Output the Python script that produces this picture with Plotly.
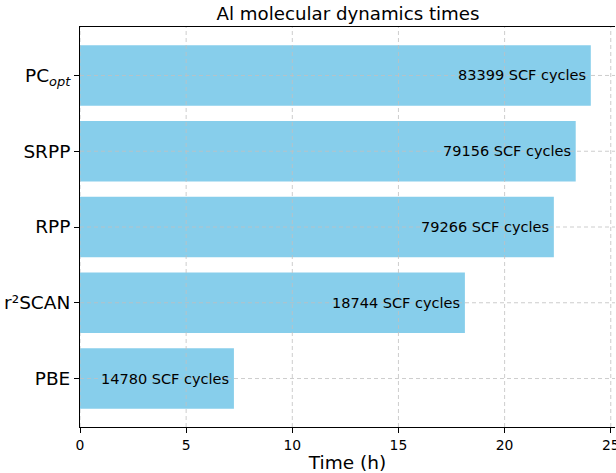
import plotly.graph_objects as go

categories = ["PBE", "r²SCAN", "RPP", "SRPP", "PC<sub><i>opt</i></sub>"]
times_h = [7.25, 18.13, 22.32, 23.35, 24.06]
scf_cycles = [14780, 18744, 79266, 79156, 83399]
x_ticks = [0, 5, 10, 15, 20, 25]

positions = list(range(len(categories)))
FONT = "DejaVu Sans"

fig = go.Figure()
fig.add_trace(go.Bar(
    y=positions, x=times_h, orientation="h", width=0.8,
    marker=dict(color="#87CEEB", line=dict(width=0)),
    hoverinfo="skip",
))

for p, t, c in zip(positions, times_h, scf_cycles):
    fig.add_annotation(x=t, y=p, xref="x", yref="y", text=f"{c} SCF cycles",
                       showarrow=False, xanchor="right", yanchor="middle", xshift=-3,
                       font=dict(family=FONT, size=14.5, color="black"))

grid_style = dict(color="#c0c0c0", width=0.8, dash="4px,3px")
for xt in x_ticks:
    fig.add_shape(type="line", xref="x", yref="paper", x0=xt, x1=xt, y0=0, y1=1,
                  line=grid_style, layer="above")
for p in positions:
    fig.add_shape(type="line", xref="paper", yref="y", x0=0, x1=1, y0=p, y1=p,
                  line=grid_style, layer="above")

fig.update_layout(
    width=616, height=473,
    margin=dict(l=80, r=1, t=27, b=46, autoexpand=False),
    plot_bgcolor="white", paper_bgcolor="white",
    showlegend=False,
    font=dict(family=FONT, color="black"),
    title=dict(text="Al molecular dynamics times", x=0.565, xanchor="center",
               y=1 - 14 / 473, yanchor="middle", yref="container",
               font=dict(family=FONT, size=18.2, color="black")),
    xaxis=dict(range=[0, 25.2], tickvals=x_ticks, ticktext=[str(v) for v in x_ticks],
               showgrid=False, zeroline=False, showline=True, linecolor="black",
               linewidth=1, mirror=True, ticks="outside", ticklen=5, tickcolor="black",
               ticklabeloverflow="allow", automargin=False,
               tickfont=dict(family=FONT, size=13.9, color="black"),
               title=dict(text="Time (h)", standoff=5,
                          font=dict(family=FONT, size=18.5, color="black"))),
    yaxis=dict(range=[-0.64, 4.64], tickvals=positions, ticktext=categories,
               showgrid=False, zeroline=False, showline=True, linecolor="black",
               linewidth=1, mirror=False, ticks="outside", ticklen=5, tickcolor="black",
               automargin=False,
               tickfont=dict(family=FONT, size=18.5, color="black")),
)

fig.write_html("out.html")
